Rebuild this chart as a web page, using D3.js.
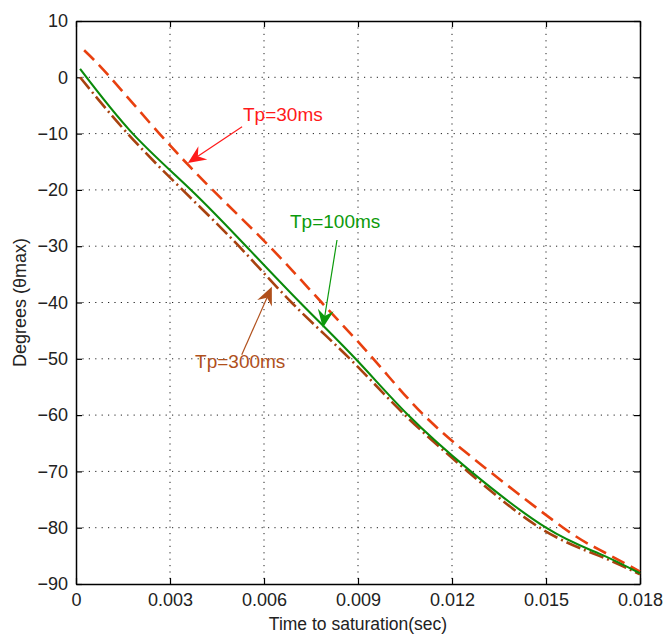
<!DOCTYPE html>
<html>
<head>
<meta charset="utf-8">
<script src="https://cdn.jsdelivr.net/npm/d3@7"></script>
<style>
  html, body { margin: 0; padding: 0; background: #fff; }
  svg { display: block; font-family: "Liberation Sans", Arial, sans-serif; }
</style>
</head>
<body>
<svg id="chart" width="665" height="637"></svg>
<script>
// Time to saturation (seconds) vs. angle (degrees) for three Tp values
const t30  = [0.00026, 0.00109, 0.00266, 0.00436, 0.00617, 0.00784, 0.00949, 0.0111, 0.0132, 0.01555, 0.0167, 0.0180];
const v30  = [4.8, 0, -10, -20, -30, -40, -50, -60, -70, -80, -83.9, -87.8];

const t100 = [0.00013, 0.00181, 0.00367, 0.00543, 0.00715, 0.00892, 0.0106, 0.0126, 0.0150, 0.0167, 0.0180];
const v100 = [1.5, -10, -20, -30, -40, -50, -60, -70, -80, -84.6, -88.1];

const t300 = [0.00013, 0.00165, 0.0034, 0.0052, 0.00688, 0.00874, 0.0105, 0.0125, 0.0148, 0.0167, 0.0180];
const v300 = [0, -10, -20, -30, -40, -50, -60, -70, -80, -85.0, -88.3];

const xTicks = [0, 0.003, 0.006, 0.009, 0.012, 0.015, 0.018];
const xTickLabels = ["0", "0.003", "0.006", "0.009", "0.012", "0.015", "0.018"];
const yTicks = [10, 0, -10, -20, -30, -40, -50, -60, -70, -80, -90];

// annotation labels with arrow start / tip, in data units
const notes = [
  { text: "Tp=30ms",  color: "#ff1a1a", tx: 0.00533, ty: -7.8,  x1: 0.0053,  y1: -8.8,  x2: 0.00357, y2: -15.2 },
  { text: "Tp=100ms", color: "#0b9a0b", tx: 0.00683, ty: -26.8, x1: 0.00833, y1: -28.9, x2: 0.00788, y2: -44.5 },
  { text: "Tp=300ms", color: "#b0501c", tx: 0.0038,  ty: -51.6, x1: 0.00529, y1: -49.3, x2: 0.00625, y2: -37.2 }
];

const svg = d3.select("#chart");
const m = { left: 76, right: 25, top: 21, bottom: 53 };
const W = 665, H = 637;

const x = d3.scaleLinear().domain([0, 0.018]).range([m.left, W - m.right]);
const y = d3.scaleLinear().domain([-90, 10]).range([H - m.bottom, m.top]);

// grid
const grid = svg.append("g").attr("stroke", "#222").attr("stroke-width", 1)
  .attr("stroke-dasharray", "1.2,5.2");
grid.selectAll("line.gx").data(xTicks.slice(1, -1)).join("line")
  .attr("x1", d => x(d)).attr("x2", d => x(d))
  .attr("y1", y(10)).attr("y2", y(-90));
grid.selectAll("line.gy").data(yTicks.slice(1, -1)).join("line")
  .attr("x1", x(0)).attr("x2", x(0.018))
  .attr("y1", d => y(d)).attr("y2", d => y(d));

// axes (box with inward ticks on all four sides)
const tk = 6;
const fmt = d => xTickLabels[xTicks.indexOf(d)];
const axB = svg.append("g").attr("transform", `translate(0,${y(-90)})`)
  .call(d3.axisBottom(x).tickValues(xTicks).tickFormat(fmt).tickSizeInner(-tk).tickSizeOuter(0).tickPadding(9));
const axT = svg.append("g").attr("transform", `translate(0,${y(10)})`)
  .call(d3.axisTop(x).tickValues(xTicks).tickFormat("").tickSizeInner(-tk).tickSizeOuter(0));
const axL = svg.append("g").attr("transform", `translate(${x(0)},0)`)
  .call(d3.axisLeft(y).tickValues(yTicks).tickFormat(d3.format("d")).tickSizeInner(-tk).tickSizeOuter(0).tickPadding(8));
const axR = svg.append("g").attr("transform", `translate(${x(0.018)},0)`)
  .call(d3.axisRight(y).tickValues(yTicks).tickFormat("").tickSizeInner(-tk).tickSizeOuter(0));
[axB, axT, axL, axR].forEach(g => {
  g.select(".domain").attr("stroke", "#000").attr("stroke-width", 1.5);
  g.selectAll(".tick line").attr("stroke", "#000").attr("stroke-width", 1.2);
  g.selectAll("text").attr("font-size", 18).attr("fill", "#222")
    .attr("font-family", "'Liberation Sans', Arial, sans-serif");
});

// axis titles
svg.append("text").attr("x", (x(0) + x(0.018)) / 2).attr("y", 630)
  .attr("text-anchor", "middle").attr("font-size", 17.5).attr("fill", "#222")
  .text("Time to saturation(sec)");
svg.append("text").attr("transform", `translate(26,${(y(10) + y(-90)) / 2}) rotate(-90)`)
  .attr("text-anchor", "middle").attr("font-size", 18).attr("fill", "#222")
  .text("Degrees (θmax)");

// curves
const plot = svg.append("g");
const line = d3.line().x(d => x(d[0])).y(d => y(d[1])).curve(d3.curveNatural);
const series = [
  { t: t300, v: v300, color: "#a8420f", w: 2.6, dash: "15,4,2,4" },
  { t: t30,  v: v30,  color: "#e8400f", w: 2.6, dash: "14,7" },
  { t: t100, v: v100, color: "#0a8a0a", w: 2.1, dash: null }
];
series.forEach(s => {
  plot.append("path").datum(d3.zip(s.t, s.v))
    .attr("fill", "none").attr("stroke", s.color).attr("stroke-width", s.w)
    .attr("stroke-dasharray", s.dash).attr("d", line);
});

// annotations with arrows
notes.forEach(n => {
  const ax1 = x(n.x1), ay1 = y(n.y1), ax2 = x(n.x2), ay2 = y(n.y2);
  const ang = Math.atan2(ay2 - ay1, ax2 - ax1);
  const L = 18, Wd = 8, notch = 12;
  const ux = Math.cos(ang), uy = Math.sin(ang);
  const px = -uy, py = ux;
  const bx = ax2 - ux * L, by = ay2 - uy * L;
  const nx = ax2 - ux * notch, ny = ay2 - uy * notch;
  svg.append("line").attr("x1", ax1).attr("y1", ay1).attr("x2", nx).attr("y2", ny)
    .attr("stroke", n.color).attr("stroke-width", 1.2);
  svg.append("path")
    .attr("d", `M${ax2},${ay2} L${bx + px * Wd},${by + py * Wd} L${nx},${ny} L${bx - px * Wd},${by - py * Wd} Z`)
    .attr("fill", n.color);
  svg.append("text").attr("x", x(n.tx)).attr("y", y(n.ty))
    .attr("font-size", 19).attr("fill", n.color).text(n.text);
});
</script>
</body>
</html>
